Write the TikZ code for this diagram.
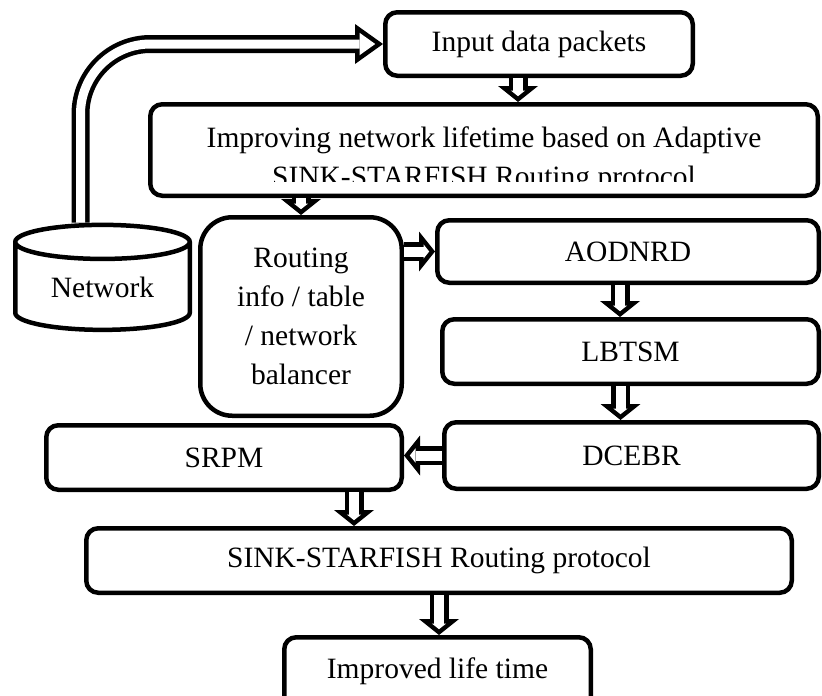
\documentclass[tikz,border=0pt]{standalone}
\usepackage{fontspec}
\setmainfont{Liberation Serif}
\usetikzlibrary{arrows.meta,positioning,shapes.geometric,calc}
\tikzset{>=Stealth}

\begin{document}
\begin{tikzpicture}[x=1pt, y=-1pt,
    box/.style={draw, line width=4.5pt, rounded corners=12pt, fill=white, align=center, inner sep=0pt, font=\fontsize{29.5}{39}\selectfont},
    txt/.style={inner sep=0pt, font=\fontsize{29.5}{39}\selectfont},
    flow/.style={white, line width=10pt, shorten >=5.8pt, -{Triangle[length=5.7pt, width=14.4pt, line width=0pt]},
      preaction={draw=black, line width=19pt, shorten >=0pt, -{Triangle[length=16pt, width=40pt, line width=0pt]}}},
    bigflow/.style={white, line width=9pt, rounded corners=70pt, shorten >=7.8pt, -{Triangle[length=15.7pt, width=22.5pt, line width=0pt]},
      preaction={draw=black, line width=18pt, shorten >=0pt, -{Triangle[length=28pt, width=40pt, line width=0pt]}}}
  ]
    \useasboundingbox (0,0) rectangle (822,696);

    \node[box, minimum width=307.5pt, minimum height=63.5pt] (inp) at (539,44) {Input data packets};
    \node[box, minimum width=667.5pt, minimum height=91.5pt] (imp) at (484,150) {};
    \begin{scope}
      \clip (imp.north west) rectangle ([yshift=17pt]imp.south east);
      \node[txt, anchor=base] (impa) at (484,147) {Improving network lifetime based on Adaptive};
      \node[txt, anchor=base] (impb) at (484,186) {SINK-STARFISH Routing protocol};
    \end{scope}
    \node[cylinder, draw, line width=4.5pt, fill=white, shape border rotate=90, aspect=0.33,
      minimum width=174.5pt, minimum height=105pt, inner sep=0pt,
      font=\fontsize{29.5}{39}\selectfont] (net) at (102.5,287) {Network};
    \node[box, rounded corners=32pt, minimum width=201.5pt, minimum height=198.5pt] (rout) at (301,316.5)
      {Routing\\info / table\\/ network\\balancer};
    \node[box, minimum width=381.5pt, minimum height=62.5pt] (aod) at (628,251.5) {AODNRD};
    \node[box, minimum width=376.5pt, minimum height=64.5pt] (lbt) at (630.5,351.5) {LBTSM};
    \node[box, minimum width=374.5pt, minimum height=66.5pt] (dce) at (631.5,455.5) {DCEBR};
    \node[box, minimum width=355.5pt, minimum height=64.5pt] (srpm) at (224,457.5) {SRPM};
    \node[box, minimum width=705.5pt, minimum height=64.5pt] (sink) at (439,560.5) {SINK-STARFISH Routing protocol};
    \node[box, minimum width=306.5pt, minimum height=80.5pt, text height=20pt, text depth=19pt] (impd) at (437.5,677.5) {Improved life time};

    % hollow block arrows
    \draw[bigflow] ([xshift=-22pt]net.north) |- (inp.west);
    \draw[flow] ([xshift=-21pt]inp.south) -- ([xshift=-21pt]inp.south |- imp.north);
    \draw[flow] (imp.south -| rout.north) -- (rout.north);
    \draw[flow] (rout.east |- aod.west) -- (aod.west);
    \draw[flow] ([xshift=-8pt]aod.south) -- ([xshift=-8pt]aod.south |- lbt.north);
    \draw[flow] ([xshift=-10pt]lbt.south) -- ([xshift=-10pt]lbt.south |- dce.north);
    \draw[flow] (dce.west) -- (dce.west -| srpm.east);
    \draw[flow] ([xshift=130pt]srpm.south) -- ([xshift=130pt]srpm.south |- sink.north);
    \draw[flow] (sink.south) -- (sink.south |- impd.north);
\end{tikzpicture}
\end{document}
